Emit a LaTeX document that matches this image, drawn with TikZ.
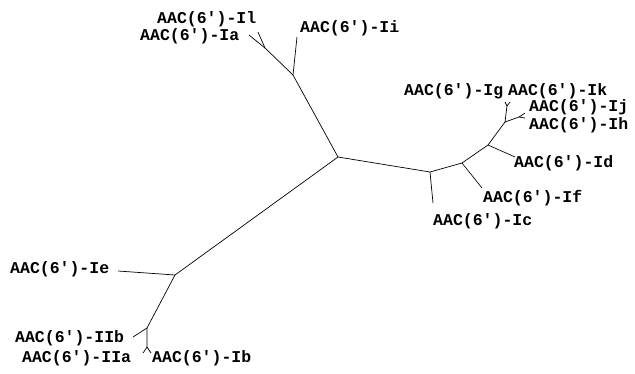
\documentclass[tikz,border=0pt]{standalone}
\usepackage{fontspec}
\setmonofont{Liberation Mono}
\begin{document}
\begin{tikzpicture}[x=1pt,y=-1pt,
  lbl/.style={anchor=west,inner sep=0pt,font=\ttfamily\bfseries\fontsize{16.5}{16.5}\selectfont},
  br/.style={line width=0.7pt,black}]
\useasboundingbox (0,0) rectangle (635,373);
% junctions
\coordinate (c) at (338,157);
\coordinate (t1) at (293,75);
\coordinate (t2) at (265,48);
\coordinate (r1) at (430,172);
\coordinate (r2) at (462,163);
\coordinate (r3) at (488,145);
\coordinate (r4) at (505,122);
\coordinate (r5) at (507,106);
\coordinate (r6) at (519,117);
\coordinate (l1) at (175,275);
\coordinate (l2) at (147,328);
\coordinate (l3) at (147,347);
% leaf ends
\coordinate (eIa) at (249,35);
\coordinate (eIl) at (258,32);
\coordinate (eIi) at (297,37);
\coordinate (eIc) at (433,203);
\coordinate (eIf) at (482,188);
\coordinate (eId) at (515,157);
\coordinate (eIg) at (505,102);
\coordinate (eIk) at (510,102);
\coordinate (eIj) at (525,113);
\coordinate (eIh) at (525,118);
\coordinate (eIe) at (118,271);
\coordinate (eIIb) at (133,337);
\coordinate (eIIa) at (143,353);
\coordinate (eIb) at (151,353);
% branches
\draw[br] (c) -- (t1) -- (t2);
\draw[br] (t2) -- (eIa);
\draw[br] (t2) -- (eIl);
\draw[br] (t1) -- (eIi);
\draw[br] (c) -- (r1) -- (r2) -- (r3) -- (r4) -- (r5);
\draw[br] (r1) -- (eIc);
\draw[br] (r2) -- (eIf);
\draw[br] (r3) -- (eId);
\draw[br] (r4) -- (r6);
\draw[br] (r5) -- (eIg);
\draw[br] (r5) -- (eIk);
\draw[br] (r6) -- (eIj);
\draw[br] (r6) -- (eIh);
\draw[br] (c) -- (l1) -- (l2) -- (l3);
\draw[br] (l1) -- (eIe);
\draw[br] (l2) -- (eIIb);
\draw[br] (l3) -- (eIIa);
\draw[br] (l3) -- (eIb);
% labels
\node[lbl] (Il) at (157,19) {AAC(6')-Il};
\node[lbl] (Ia) at (140,36) {AAC(6')-Ia};
\node[lbl] (Ii) at (300,28) {AAC(6')-Ii};
\node[lbl] (Ig) at (404,91) {AAC(6')-Ig};
\node[lbl] (Ik) at (508,91) {AAC(6')-Ik};
\node[lbl] (Ij) at (529,107) {AAC(6')-Ij};
\node[lbl] (Ih) at (529,125) {AAC(6')-Ih};
\node[lbl] (Id) at (514,163) {AAC(6')-Id};
\node[lbl] (If) at (483,198) {AAC(6')-If};
\node[lbl] (Ic) at (433,221) {AAC(6')-Ic};
\node[lbl] (Ie) at (10,269) {AAC(6')-Ie};
\node[lbl] (IIb) at (15,338) {AAC(6')-IIb};
\node[lbl] (IIa) at (22,358) {AAC(6')-IIa};
\node[lbl] (Ib) at (152,358) {AAC(6')-Ib};
\end{tikzpicture}
\end{document}
